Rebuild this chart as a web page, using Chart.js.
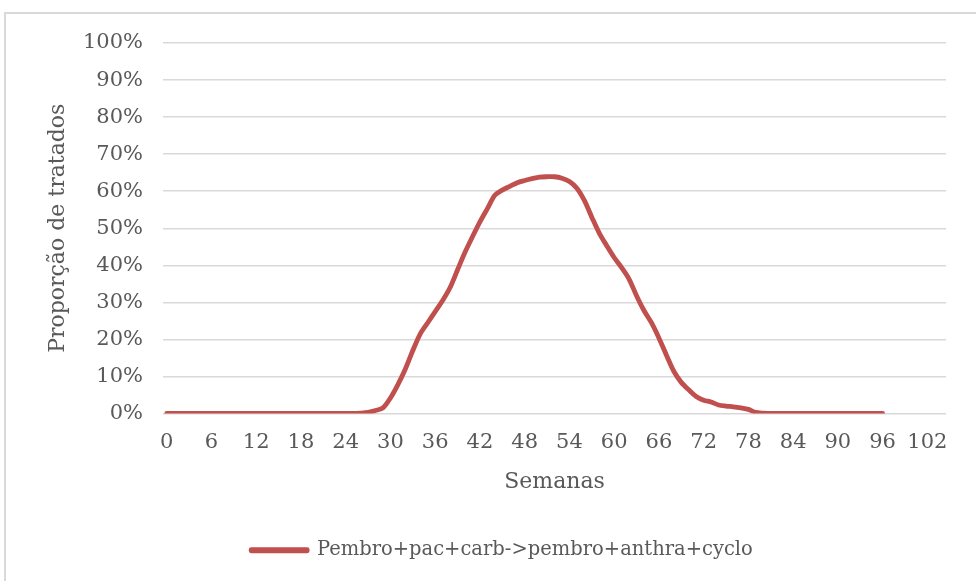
<!DOCTYPE html>
<html>
<head>
<meta charset="utf-8">
<script src="https://cdn.jsdelivr.net/npm/chart.js@4/dist/chart.umd.min.js"></script>
<style>
  html, body { margin: 0; padding: 0; background: #ffffff; }
  #wrap { position: relative; width: 976px; height: 581px; overflow: hidden; }
  #frame { position: absolute; left: 4px; top: 12px; width: 1000px; height: 600px;
           border: 2px solid #d9d9d9; box-sizing: border-box; }
  #c { position: absolute; left: 0; top: 0; }
</style>
</head>
<body>
<div id="wrap">
  <div id="frame"></div>
  <canvas id="c" width="976" height="581"></canvas>
</div>
<script>
// Weeks on the category axis (0..104); a label is shown every 6 weeks
const weeks = [];
for (let w = 0; w <= 104; w++) weeks.push(String(w));

// Share of patients on treatment (%), weeks 0..96
const seriesName = 'Pembro+pac+carb->pembro+anthra+cyclo';
const treatedPct = [
  0, 0, 0, 0, 0, 0, 0, 0, 0, 0,
  0, 0, 0, 0, 0, 0, 0, 0, 0, 0,
  0, 0, 0, 0, 0, 0, 0.1, 0.3, 0.8, 1.5,
  4.2, 7.8, 12, 17, 21.5, 24.5, 27.5, 30.5, 34, 38.8,
  43.5, 47.7, 51.7, 55.3, 58.9, 60.3, 61.3, 62.3, 62.9, 63.4,
  63.8, 63.9, 63.9, 63.5, 62.6, 60.8, 57.5, 53, 48.7, 45.3,
  42.1, 39.4, 36.3, 31.8, 27.8, 24.5, 20.4, 15.8, 11.4, 8.4,
  6.4, 4.6, 3.6, 3.1, 2.3, 2.0, 1.8, 1.5, 1.1, 0.3,
  0.1, 0, 0, 0, 0, 0, 0, 0, 0, 0,
  0, 0, 0, 0, 0, 0, 0
];

const yTicks = [0, 10, 20, 30, 40, 50, 60, 70, 80, 90, 100];

const FONT = 'DejaVu Serif';
const TEXT = '#595959';
const RED = '#C0504D';

// Nudge the bottom legend so it sits centred under the whole frame
const legendShift = {
  id: 'legendShift',
  afterLayout(chart) {
    if (chart.legend) {
      chart.legend.left += 19;
      chart.legend.right += 19;
    }
  }
};

new Chart(document.getElementById('c'), {
  type: 'line',
  data: {
    labels: weeks,
    datasets: [{
      label: seriesName,
      data: treatedPct,
      borderColor: RED,
      backgroundColor: RED,
      borderWidth: 4.8,
      pointRadius: 0,
      tension: 0.3,
      borderCapStyle: 'round',
      borderJoinStyle: 'round',
      fill: false
    }]
  },
  plugins: [legendShift],
  options: {
    responsive: false,
    devicePixelRatio: 1,
    animation: false,
    layout: { padding: { top: 43, right: 30, left: 20, bottom: 11 } },
    plugins: {
      legend: {
        position: 'bottom',
        labels: {
          color: TEXT,
          font: { family: FONT, size: 19.5 },
          boxWidth: 56,
          boxHeight: 1,
          padding: 10
        }
      },
      tooltip: { enabled: false }
    },
    scales: {
      x: {
        type: 'category',
        offset: true,
        grid: { display: false, drawTicks: false },
        border: { display: false },
        ticks: {
          autoSkip: false,
          maxRotation: 0,
          padding: 16,
          color: TEXT,
          font: { family: FONT, size: 21 },
          callback: function (v) {
            const w = Number(this.getLabelForValue(v));
            return w % 6 === 0 ? String(w) : '';
          }
        },
        title: {
          display: true,
          text: 'Semanas',
          color: TEXT,
          font: { family: FONT, size: 22 },
          padding: { top: 0, bottom: 35 }
        },
        afterFit: s => { s.height = 117; }
      },
      y: {
        min: 0,
        max: 100,
        afterBuildTicks: s => { s.ticks = yTicks.map(v => ({ value: v })); },
        grid: { color: '#d9d9d9', lineWidth: 1.5, drawTicks: false },
        border: { display: false },
        ticks: {
          padding: 20,
          color: TEXT,
          font: { family: FONT, size: 21 },
          callback: v => v + '%'
        },
        title: {
          display: true,
          text: 'Proporção de tratados',
          color: TEXT,
          font: { family: FONT, size: 22 },
          padding: { top: 25, bottom: 0 }
        },
        afterFit: s => { s.width = 143; }
      }
    }
  }
});
</script>
</body>
</html>
